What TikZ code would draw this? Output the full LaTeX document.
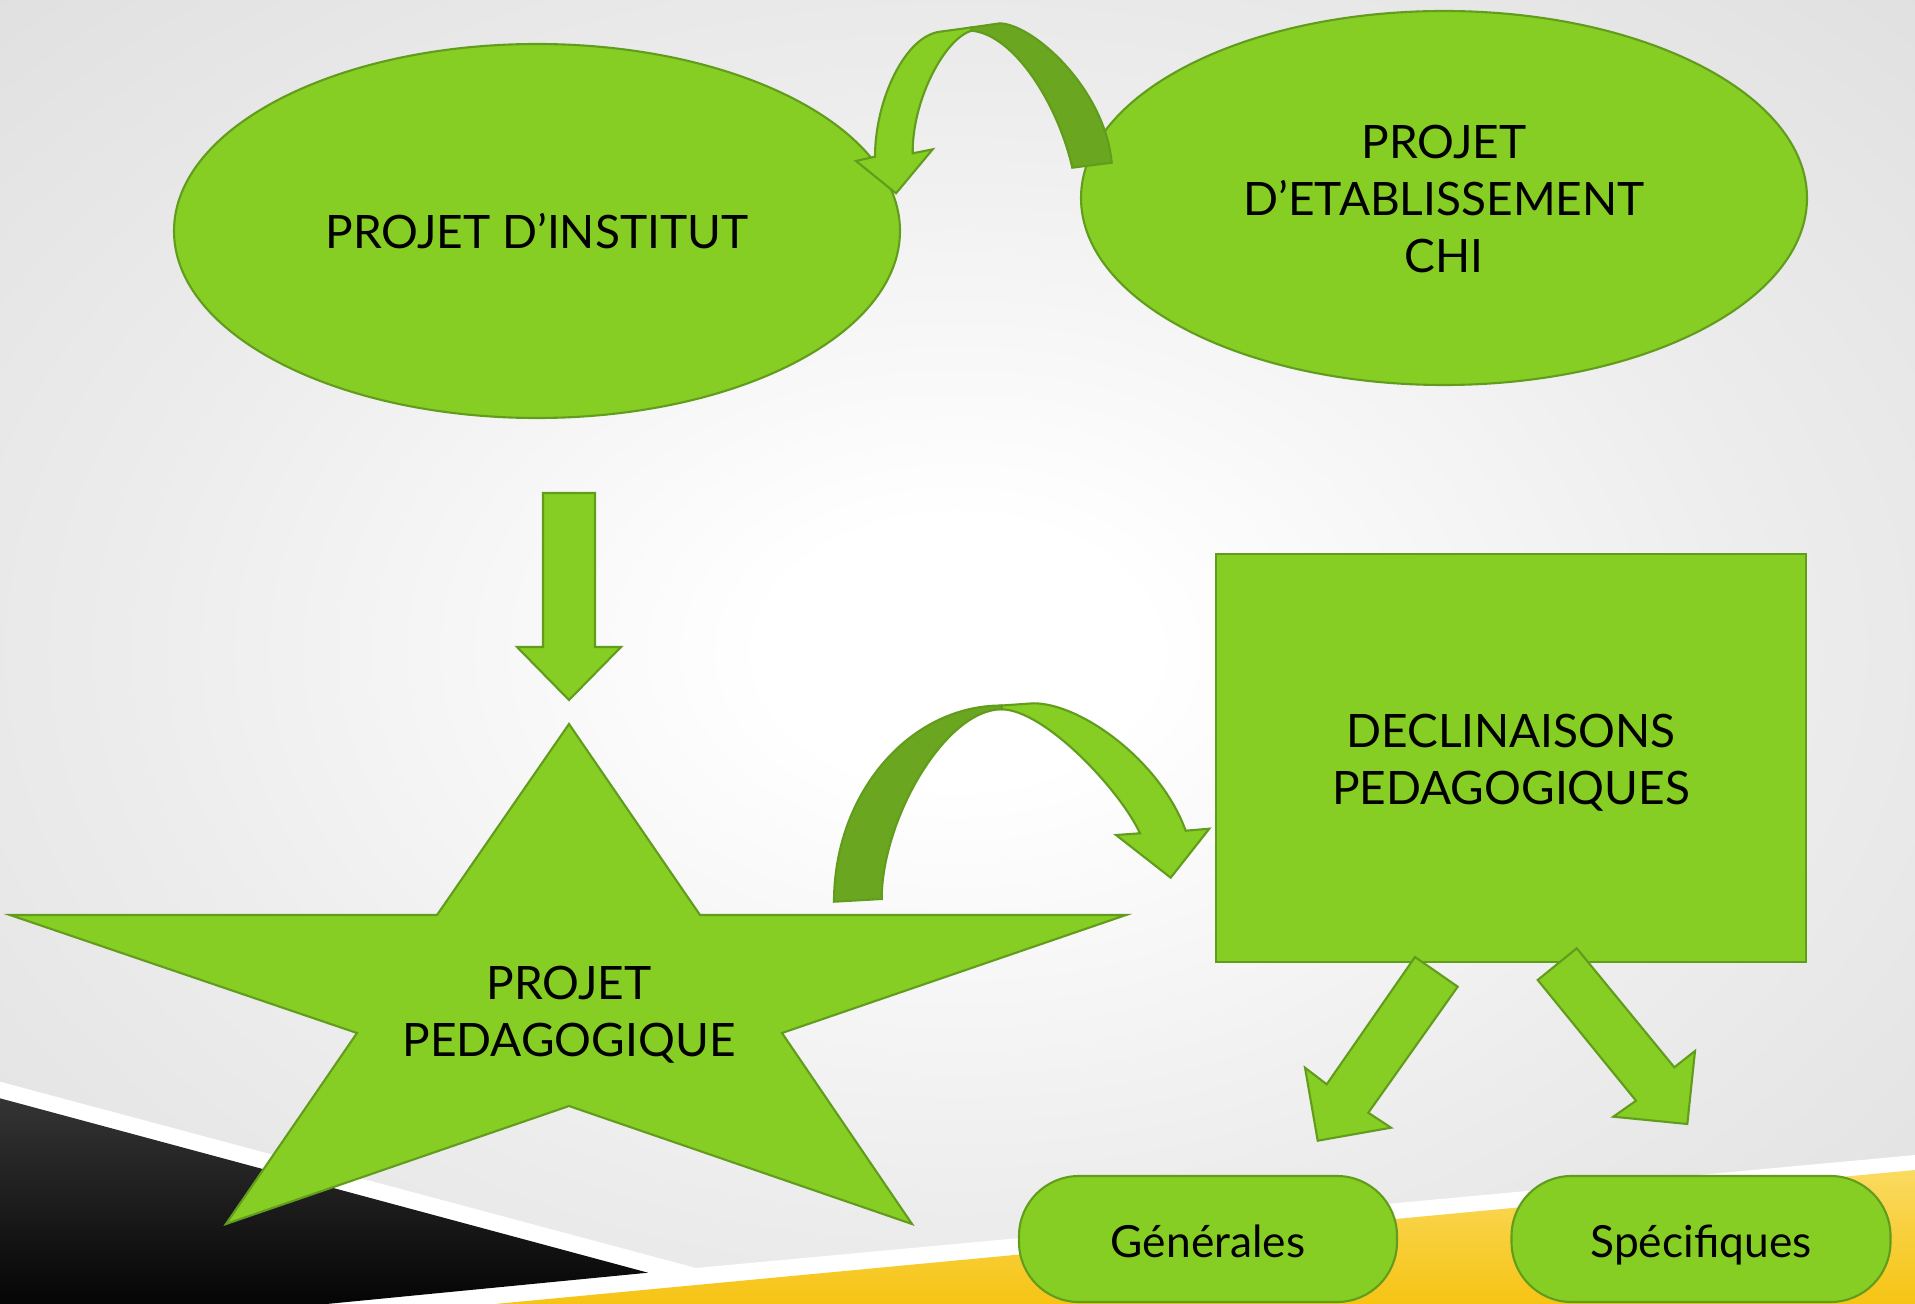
\documentclass[tikz,border=0pt]{standalone}
\usepackage{fontspec}
\setmainfont{Lato}
\usetikzlibrary{shapes.geometric}
\definecolor{gfill}{RGB}{134,206,36}
\definecolor{gline}{RGB}{98,156,28}
\definecolor{gdark}{RGB}{106,166,32}
\definecolor{bgA}{RGB}{216,216,216}
\definecolor{bgB}{RGB}{200,200,200}
\definecolor{bgC}{RGB}{236,236,236}
\definecolor{yelA}{RGB}{250,218,96}
\definecolor{yelB}{RGB}{246,196,20}
\definecolor{blkA}{RGB}{52,52,52}
\definecolor{blkB}{RGB}{5,5,5}
\pgfdeclareradialshading{bgshade}{\pgfpoint{0bp}{0bp}}{color(0bp)=(white); color(5bp)=(white); color(22bp)=(bgC); color(45bp)=(bgA); color(72bp)=(bgB)}
\begin{document}
\begin{tikzpicture}[x=0.1mm,y=-0.1mm,
  shp/.style={fill=gfill, draw=gline, line width=0.6pt, line join=miter},
  shpdark/.style={shp, fill=gdark},
  lbl/.style={font=\fontsize{13.1}{16.3}\selectfont, align=center, text=black, inner sep=0pt},
  lbls/.style={font=\fontsize{12.6}{15}\selectfont, text=black, inner sep=0pt}]
\useasboundingbox (0,0) rectangle (1915,1304);
% background
\shade[shading=bgshade] (0,0) rectangle (1915,1304);
\fill[white] (0,1081.7) -- (696,1268) -- (1915,1155) -- (1915,1304) -- (0,1304) -- cycle;
\shade[top color=blkA, bottom color=blkB] (0,1098.3) -- (648,1272.7) -- (326.5,1304) -- (0,1304) -- cycle;
\shade[top color=yelA, bottom color=yelB] (495,1304) -- (1915,1170) -- (1915,1304) -- cycle;
% ellipses
\node[ellipse, shp, minimum width=72.6mm, minimum height=37.4mm] (inst) at (537,231) {};
\node[lbl] (instt) at (537,231) {PROJET D’INSTITUT};
\node[ellipse, shp, minimum width=72.6mm, minimum height=37.4mm] (etab) at (1444,198) {};
\node[lbl] (etabt) at (1444,199) {PROJET\\D’ETABLISSEMENT\\CHI};
% star
\filldraw[shp] (569,724) -- (700,915) -- (1126,915) -- (782,1033) -- (912,1224) -- (569,1106) -- (226,1224) -- (357,1033) -- (10,915) -- (437,915) -- cycle;
\node[lbl] (peda) at (569,1015) {PROJET\\PEDAGOGIQUE};
% rectangle
\node[rectangle, shp, minimum width=59mm, minimum height=40.8mm] (decl) at (1511,758) {};
\node[lbl] (declt) at (1511,763) {DECLINAISONS\\PEDAGOGIQUES};
% down arrow
\filldraw[shp] (543,493) -- (595,493) -- (595,647) -- (621,647) -- (569,700) -- (517,647) -- (543,647) -- cycle;
% top curved arrow
\filldraw[shpdark] (1072.3,167.7) .. controls (1058,105) and (1015,35) .. (971.7,30.7) -- (971,27.5) -- (1000,23.3) .. controls (1035,25) and (1105,90) .. (1111.7,162.7) -- cycle;
\filldraw[shp] (912.7,153.3) .. controls (912,100) and (945,38) .. (971.7,30.7) -- (971,27.5) -- (940,31.7) .. controls (905,36) and (875,100) .. (875,156.7) -- (856,161) -- (896,193.3) -- (932.7,149.3) -- cycle;
% middle curved arrow
\filldraw[shpdark] (881.7,899) .. controls (881.7,820) and (945,709.3) .. (1001.7,709.3) -- (1001.7,705.5) .. controls (909,705.5) and (834,794) .. (834,901.7) -- cycle;
\filldraw[shp] (1001.7,709.3) -- (1001.7,705.5) -- (1033.3,703.3) .. controls (1080,703) and (1160,760) .. (1185.7,830.7) -- (1209.3,828.7) -- (1170.7,877.7) -- (1116,835) -- (1140,833.3) .. controls (1120,790) and (1045,710) .. (1001.7,709.3) -- cycle;
% diagonal arrows
\filldraw[shp] (1415,957) -- (1457.7,986.7) -- (1368.3,1112.7) -- (1391,1127.7) -- (1317.7,1140.7) -- (1305,1067.7) -- (1326.7,1084.3) -- cycle;
\filldraw[shp] (1576.7,948.3) -- (1537.7,980) -- (1636,1100.7) -- (1613.3,1116.7) -- (1687.3,1124) -- (1695,1051) -- (1674.3,1067.3) -- cycle;
% bottom boxes
\node[rectangle, rounded corners=6mm, shp, minimum width=37.8mm, minimum height=12.6mm] (gen) at (1208,1239) {};
\node[lbls, anchor=base] (gent) at (1208,1257) {Générales};
\node[rectangle, rounded corners=6mm, shp, minimum width=37.9mm, minimum height=12.6mm] (spec) at (1701,1239) {};
\node[lbls, anchor=base] (spect) at (1701,1257) {Spécifiques};
\end{tikzpicture}
\end{document}
